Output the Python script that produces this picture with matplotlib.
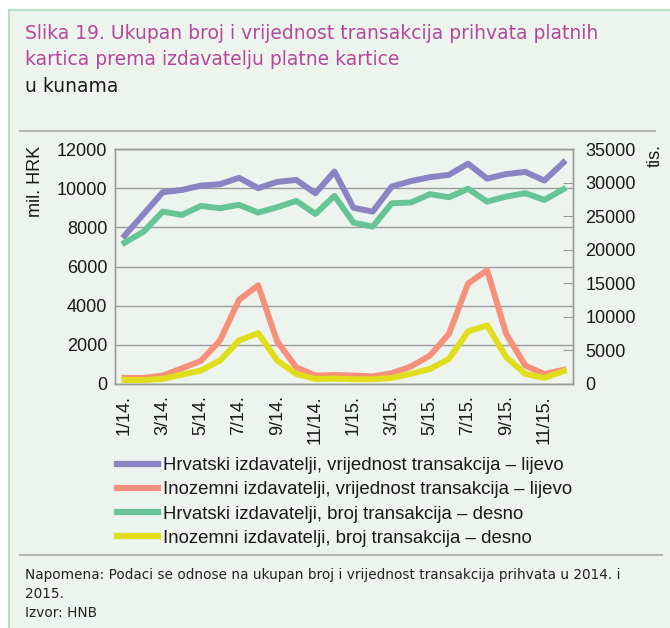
import matplotlib
matplotlib.use("Agg")
import matplotlib.pyplot as plt
from matplotlib.lines import Line2D
import numpy as np

plt.rcParams['font.family'] = ['Liberation Sans', 'DejaVu Sans']

months = ["1/14.", "2/14.", "3/14.", "4/14.", "5/14.", "6/14.", "7/14.", "8/14.", "9/14.", "10/14.", "11/14.", "12/14.",
          "1/15.", "2/15.", "3/15.", "4/15.", "5/15.", "6/15.", "7/15.", "8/15.", "9/15.", "10/15.", "11/15.", "12/15."]

hr_value = [7570, 8680, 9790, 9910, 10130, 10200, 10530, 10000, 10320, 10420, 9740, 10850,
            9000, 8800, 10080, 10360, 10560, 10680, 11250, 10490, 10720, 10830, 10390, 11310]
foreign_value = [310, 310, 430, 800, 1180, 2220, 4300, 5040, 2170, 850, 430, 460,
                 430, 390, 550, 890, 1450, 2560, 5130, 5810, 2560, 940, 510, 720]
hr_count = [21040, 22690, 25680, 25180, 26530, 26180, 26680, 25530, 26330, 27270, 25330, 28020,
            24030, 23430, 26920, 27020, 28270, 27820, 29070, 27170, 27920, 28420, 27420, 29020]
foreign_count = [600, 600, 750, 1400, 2000, 3490, 6480, 7580, 3490, 1500, 750, 800,
                 700, 700, 900, 1500, 2240, 3740, 7830, 8730, 3990, 1500, 900, 1900]

legend_labels = ["Hrvatski izdavatelji, vrijednost transakcija – lijevo",
                 "Inozemni izdavatelji, vrijednost transakcija – lijevo",
                 "Hrvatski izdavatelji, broj transakcija – desno",
                 "Inozemni izdavatelji, broj transakcija – desno"]

C_PURPLE = "#8B84C4"
C_ORANGE = "#F7907A"
C_GREEN = "#66C594"
C_YELLOW = "#E0DE1A"
BG = "#EDF4EE"
GRID = "#9A9C9C"
TXT = "#1a1a1a"

W, H = 670, 628
fig = plt.figure(figsize=(W / 100, H / 100), dpi=100)
fig.patch.set_facecolor("white")

def fy(py):
    return 1 - py / H

# background panel with border
panel = plt.Rectangle((9 / W, 0), 1 - 9 / W, fy(10), transform=fig.transFigure,
                      facecolor=BG, edgecolor="none", zorder=-10)
fig.patches.append(panel)
fig.add_artist(Line2D([9 / W, 9 / W], [0, fy(10)], transform=fig.transFigure, color="#A6DDB6", lw=1.2))
fig.add_artist(Line2D([9 / W, 1], [fy(10), fy(10)], transform=fig.transFigure, color="#A6DDB6", lw=1.2))

# separators
fig.add_artist(Line2D([20 / W, 655 / W], [fy(130.5)] * 2, transform=fig.transFigure, color="#B3B5B5", lw=1.5))
fig.add_artist(Line2D([20 / W, 662 / W], [fy(555)] * 2, transform=fig.transFigure, color="#B3B5B5", lw=1.5))

# titles
TF = ['DejaVu Sans']
fig.text(25 / W, fy(39), "Slika 19. Ukupan broj i vrijednost transakcija prihvata platnih",
         color="#B5479B", fontsize=13.5, va="baseline", ha="left", family=TF)
fig.text(25 / W, fy(65), "kartica prema izdavatelju platne kartice",
         color="#B5479B", fontsize=13.5, va="baseline", ha="left", family=TF)
fig.text(25 / W, fy(92), "u kunama", color=TXT, fontsize=13.5, va="baseline", ha="left", family=TF)

# footer
fig.text(25 / W, fy(579), "Napomena: Podaci se odnose na ukupan broj i vrijednost transakcija prihvata u 2014. i",
         color="#222222", fontsize=9.85, va="baseline", ha="left", family=TF)
fig.text(25 / W, fy(598), "2015.", color="#222222", fontsize=9.85, va="baseline", ha="left", family=TF)
fig.text(25 / W, fy(617), "Izvor: HNB", color="#222222", fontsize=9.85, va="baseline", ha="left", family=TF)

left, right, bottom, top = 115 / W, 573 / W, fy(384), fy(149)
ax = fig.add_axes([left, bottom, right - left, top - bottom])
ax.set_facecolor("none")
ax2 = ax.twinx()

x = np.arange(len(months))
ax.plot(x, hr_value, color=C_PURPLE, lw=4.3, zorder=4)
ax.plot(x, foreign_value, color=C_ORANGE, lw=4.3, zorder=3)
ax2.plot(x, hr_count, color=C_GREEN, lw=4.3, zorder=3)
ax2.plot(x, foreign_count, color=C_YELLOW, lw=4.3, zorder=4)

ax.set_xlim(-0.5, len(months) - 0.5)
ax.set_ylim(0, 12000)
ax.set_yticks(np.arange(0, 12001, 2000))
ax2.set_ylim(0, 35000)
ax2.set_yticks(np.arange(0, 35001, 5000))

ax.yaxis.grid(True, color=GRID, lw=1.0)
ax.set_axisbelow(True)
ax.set_xticks(x[::2])
ax.set_xticklabels(months[::2], rotation=90, fontsize=13, color=TXT)
ax.tick_params(axis="x", length=0, pad=8)
ax.tick_params(axis="y", length=0, labelsize=13, labelcolor=TXT, pad=5.5)
ax2.tick_params(axis="y", direction="in", length=7, color=GRID, labelsize=13, labelcolor=TXT, pad=9)
for a in (ax, ax2):
    for s in a.spines.values():
        s.set_color(GRID)
        s.set_linewidth(1.0)

fig.text(35 / W, fy(181), "mil. HRK", rotation=90, fontsize=13, color=TXT, ha="center", va="center")
fig.text(655 / W, fy(156), "tis.", rotation=90, fontsize=13, color=TXT, ha="center", va="center")

handles = [Line2D([], [], color=c, lw=4.5) for c in (C_PURPLE, C_ORANGE, C_GREEN, C_YELLOW)]
leg = fig.legend(handles, legend_labels, loc="upper left", bbox_to_anchor=(117 / W, fy(457)),
                 frameon=False, fontsize=13.4, handlelength=2.2, handletextpad=0.27,
                 labelspacing=0.39, borderaxespad=0, borderpad=0)
for t in leg.get_texts():
    t.set_color(TXT)

fig.savefig("out.png", dpi=100, facecolor=fig.get_facecolor())
